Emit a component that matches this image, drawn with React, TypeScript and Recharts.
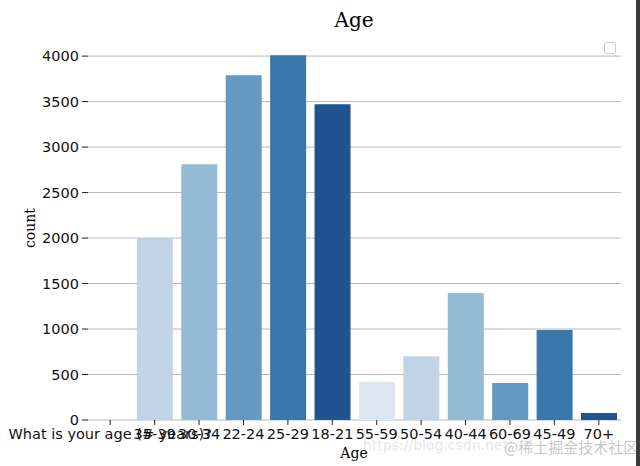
import React from "react";
import { Bar, BarChart, CartesianGrid, Cell, XAxis, YAxis } from "recharts";

const categories = [
  "What is your age (# years)?",
  "35-39",
  "30-34",
  "22-24",
  "25-29",
  "18-21",
  "55-59",
  "50-54",
  "40-44",
  "60-69",
  "45-49",
  "70+",
];
const counts = [1, 2000, 2812, 3790, 4010, 3472, 418, 702, 1395, 408, 990, 76];
const barColors = [
  "#dde7f1",
  "#c0d4e6",
  "#93bbd6",
  "#6499c2",
  "#3a77ab",
  "#20548e",
];
const yTicks = [0, 500, 1000, 1500, 2000, 2500, 3000, 3500, 4000];

const data = categories.map((age, i) => ({ age, count: counts[i] }));

const sans = "DejaVu Sans, sans-serif";
const serif = "DejaVu Serif, serif";

export default function App() {
  return (
    <div
      style={{
        position: "fixed",
        left: 0,
        top: 0,
        width: 640,
        height: 466,
        background: "#fff",
        overflow: "hidden",
      }}
    >
      <BarChart
        width={640}
        height={466}
        data={data}
        margin={{ top: 37, right: 19, left: 28, bottom: 26 }}
        barCategoryGap="10%"
      >
        <CartesianGrid
          vertical={false}
          horizontalValues={yTicks}
          stroke="#b8b8b8"
          strokeWidth={1}
        />
        <XAxis
          dataKey="age"
          interval={0}
          axisLine={false}
          tickSize={5}
          tickMargin={4}
          height={20}
          tick={{ fill: "#111", fontSize: 14.5, fontFamily: sans }}
          tickLine={{ stroke: "#222" }}
        />
        <YAxis
          width={60}
          domain={[0, 4210]}
          ticks={yTicks}
          axisLine={false}
          tickSize={6}
          tickMargin={3}
          tick={{ fill: "#111", fontSize: 14.5, fontFamily: sans }}
          tickLine={{ stroke: "#222" }}
        />
        <Bar dataKey="count" isAnimationActive={false}>
          {data.map((d, i) => (
            <Cell key={d.age} fill={barColors[i % barColors.length]} />
          ))}
        </Bar>
      </BarChart>

      <div
        style={{
          position: "absolute",
          top: 8,
          left: 0,
          width: 708,
          textAlign: "center",
          fontFamily: serif,
          fontSize: 20,
          color: "#000",
        }}
      >
        Age
      </div>
      <div
        style={{
          position: "absolute",
          top: 445,
          left: 0,
          width: 708,
          textAlign: "center",
          fontFamily: serif,
          fontSize: 14,
          color: "#000",
        }}
      >
        Age
      </div>
      <div
        style={{
          position: "absolute",
          left: 30,
          top: 228,
          transform: "translate(-50%, -50%) rotate(-90deg)",
          fontFamily: serif,
          fontSize: 14,
          color: "#000",
        }}
      >
        count
      </div>

      {/* empty legend frame */}
      <div
        style={{
          position: "absolute",
          left: 604,
          top: 42,
          width: 10,
          height: 10,
          border: "1px solid #cfcfcf",
          borderRadius: 2,
        }}
      />

      {/* watermarks */}
      <div
        style={{
          position: "absolute",
          left: 363,
          top: 437,
          fontFamily: sans,
          fontSize: 14,
          color: "rgba(190,190,190,0.4)",
          whiteSpace: "nowrap",
        }}
      >
        https://blog.csdn.net/
      </div>
      <div
        style={{
          position: "absolute",
          left: 504,
          top: 436,
          fontFamily: "Noto Sans CJK SC, sans-serif",
          fontSize: 15,
          color: "rgba(150,150,150,0.55)",
          whiteSpace: "nowrap",
        }}
      >
        @稀土掘金技术社区
      </div>

      <div
        style={{
          position: "absolute",
          left: 636,
          top: 0,
          width: 4,
          height: 466,
          background: "#3c3c3c",
        }}
      />
    </div>
  );
}
